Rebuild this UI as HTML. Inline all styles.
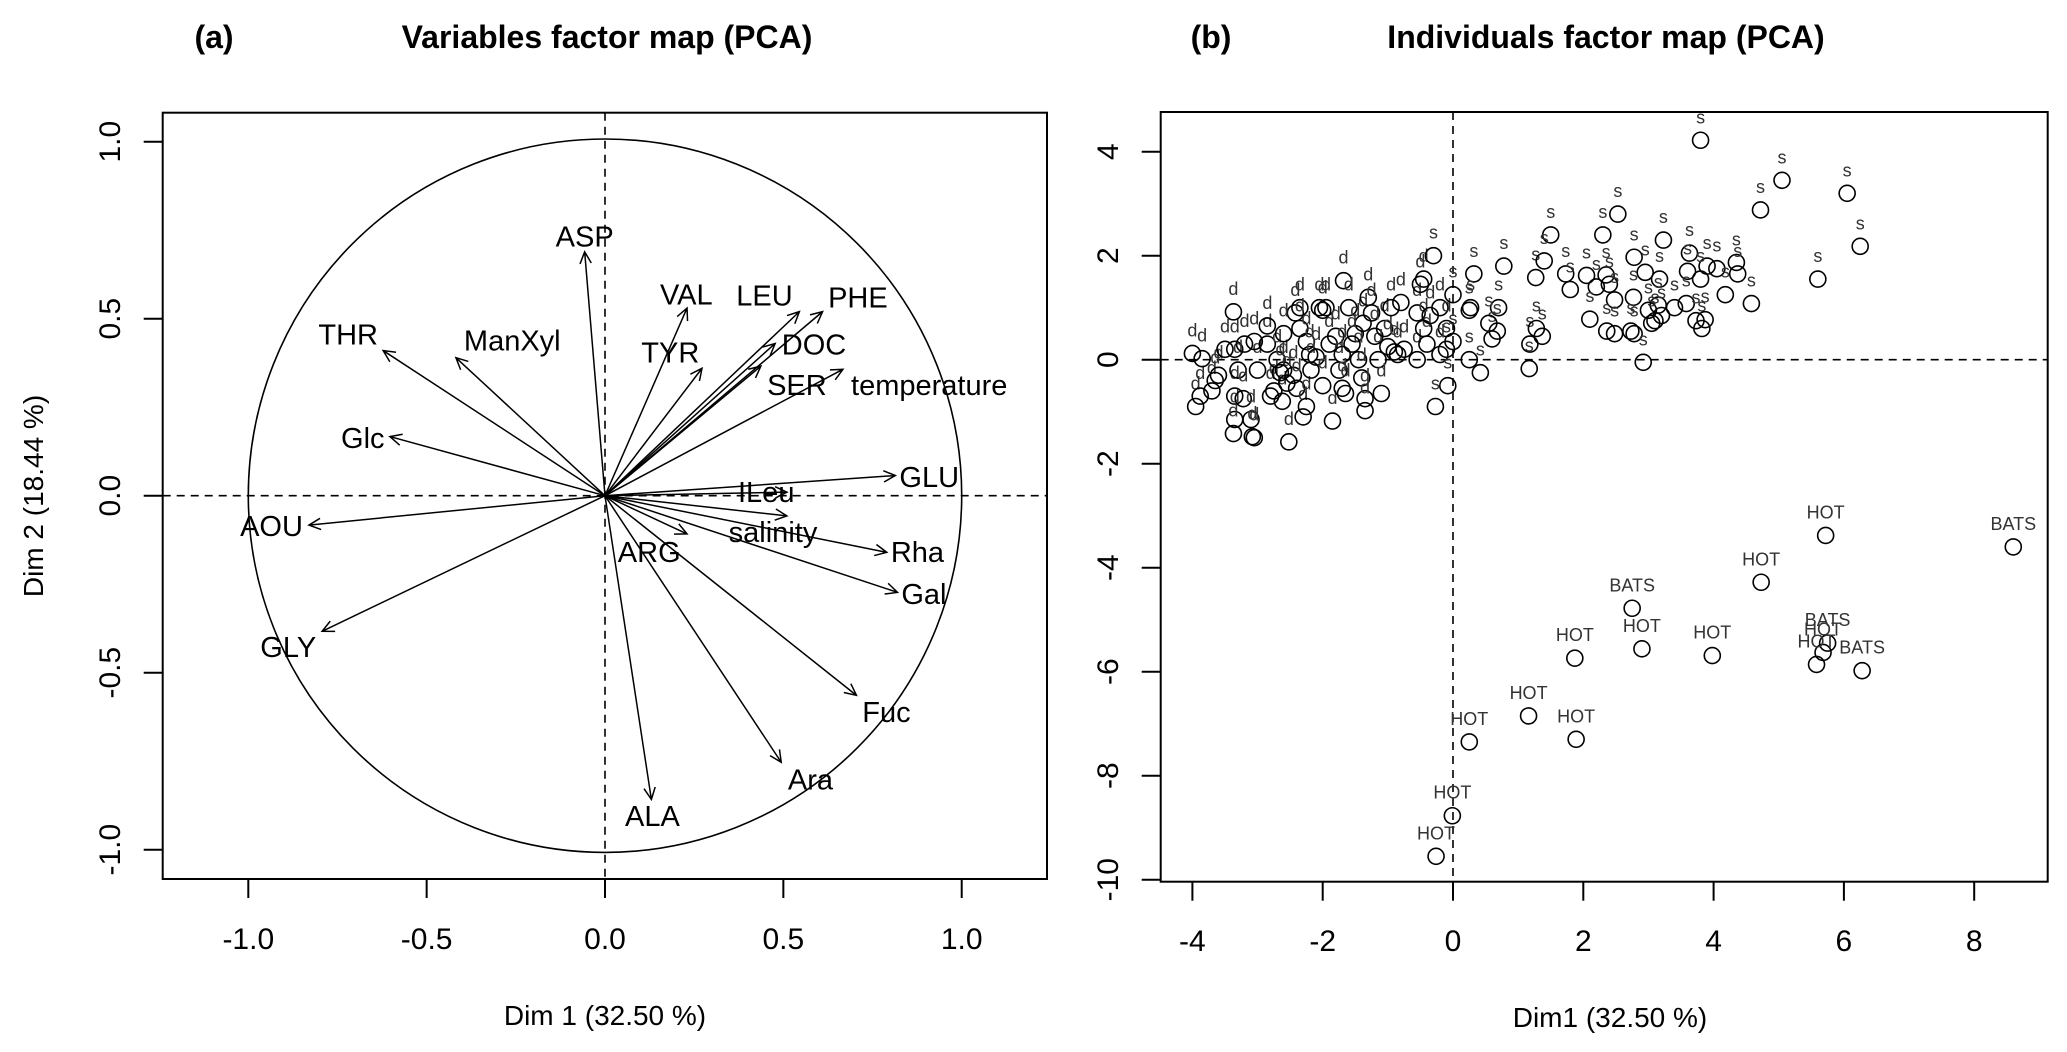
<!DOCTYPE html>
<html><head><meta charset="utf-8">
<style>
html,body{margin:0;padding:0;background:#fff;}
svg{display:block;font-family:"Liberation Sans",Arial,sans-serif;}
</style></head>
<body>
<svg id="chart" width="2067" height="1052" viewBox="0 0 2067 1052" xmlns="http://www.w3.org/2000/svg">
<text x="214" y="48" font-size="32" font-weight="bold" text-anchor="middle">(a)</text>
<text x="607" y="48" font-size="32" font-weight="bold" text-anchor="middle">Variables factor map (PCA)</text>
<text x="1211" y="48" font-size="32" font-weight="bold" text-anchor="middle">(b)</text>
<text x="1606" y="48" font-size="32" font-weight="bold" text-anchor="middle">Individuals factor map (PCA)</text>
<g id="pa"></g>
<g id="pb"></g>
</svg>
<script>
// ---- Panel (a) data ----
const varNames = ["ASP","VAL","LEU","PHE","DOC","TYR","SER","temperature","THR","ManXyl","Glc","AOU","GLY","GLU","ILeu","salinity","Rha","Gal","ARG","Fuc","Ara","ALA"];
const varX = [-0.057,0.23,0.545,0.61,0.477,0.272,0.437,0.667,-0.622,-0.418,-0.603,-0.83,-0.793,0.814,0.51,0.51,0.79,0.82,0.23,0.705,0.494,0.13];
const varY = [0.689,0.53,0.52,0.52,0.43,0.36,0.366,0.357,0.41,0.39,0.167,-0.083,-0.383,0.057,0.01,-0.057,-0.16,-0.273,-0.108,-0.564,-0.753,-0.858];
const labX = [-0.057,0.228,0.447,0.709,0.586,0.183,0.538,0.909,-0.72,-0.26,-0.679,-0.935,-0.888,0.909,0.452,0.471,0.876,0.894,0.124,0.789,0.576,0.133];
const labY = [0.732,0.569,0.565,0.56,0.427,0.404,0.313,0.313,0.455,0.438,0.163,-0.085,-0.427,0.053,0.011,-0.102,-0.159,-0.277,-0.159,-0.611,-0.801,-0.905];
const aTicks = [-1,-0.5,0,0.5,1];
const aTickLabels = ["-1.0","-0.5","0.0","0.5","1.0"];

// ---- Panel (b) data ----
const bXTicks = [-4,-2,0,2,4,6,8];
const bYTicks = [-10,-8,-6,-4,-2,0,2,4];
const stnLab = ["BATS","HOT","HOT","BATS","HOT","HOT","HOT","BATS","HOT","HOT","BATS","HOT","HOT","HOT","HOT","HOT"];
const stnX = [8.6,5.72,4.73,2.75,2.9,3.98,1.87,5.75,5.68,5.58,6.28,1.16,1.89,0.25,-0.01,-0.26];
const stnY = [-3.6,-3.38,-4.28,-4.78,-5.56,-5.69,-5.74,-5.45,-5.63,-5.86,-5.98,-6.85,-7.3,-7.35,-8.77,-9.55];
const surfX = [3.8,5.05,6.05,4.72,6.25,5.6,2.53,2.3,3.23,1.5,2.78,3.63,4.35,3.9,4.05,3.6,3.8,4.37,2.95,3.17,2.35,2.05,1.73,1.8,2.2,2.4,1.27,1.4,0.78,0.32,4.18,4.58,2.48,2.77,3.15,3.0,3.58,3.4,3.73,3.82,3.87,2.1,2.36,2.48,2.73,2.78,3.1,3.05,3.2,2.92,1.18,1.28,1.37,0.7,0.68,0.6,0.55,0.25,0.27,0.0,-0.3,0.25,0.42,-0.08,-0.27,1.17,0.0,-0.1];
const surfY = [4.22,3.45,3.2,2.88,2.18,1.55,2.8,2.4,2.3,2.4,1.97,2.05,1.87,1.8,1.75,1.7,1.55,1.65,1.68,1.55,1.63,1.62,1.65,1.35,1.4,1.45,1.58,1.9,1.8,1.65,1.25,1.08,1.15,1.2,1.05,0.95,1.08,1.0,0.75,0.6,0.77,0.78,0.55,0.5,0.55,0.5,0.75,0.7,0.85,-0.05,0.3,0.6,0.45,1.0,0.55,0.4,0.7,0.95,1.0,1.25,2.0,0.0,-0.25,-0.5,-0.9,-0.17,0.35,0.2];
const deepX = [-4.0,-3.95,-3.88,-3.85,-3.7,-3.65,-3.6,-3.5,-3.35,-3.37,-3.35,-3.3,-3.35,-3.37,-3.22,-3.2,-3.1,-3.08,-3.05,-3.0,-3.05,-2.85,-2.85,-2.8,-2.75,-2.7,-2.62,-2.6,-2.55,-2.52,-2.45,-2.42,-2.4,-2.35,-2.35,-2.3,-2.25,-2.25,-2.2,-2.18,-2.1,-2.05,-2.0,-2.0,-1.95,-1.9,-1.85,-1.8,-1.75,-1.7,-1.7,-1.68,-1.65,-1.6,-1.5,-1.45,-1.4,-1.38,-1.35,-1.35,-1.3,-1.25,-1.2,-1.15,-1.1,-1.05,-1.0,-0.95,-0.9,-0.85,-0.8,-0.75,-0.55,-0.55,-0.5,-0.45,-0.45,-0.4,-0.35,-0.2,-0.1,-0.2,-1.55,-2.6,-2.65];
const deepY = [0.12,-0.9,-0.7,0.02,-0.6,-0.4,-0.3,0.2,0.2,0.92,-0.7,-0.2,-1.15,-1.42,-0.75,0.3,-1.15,-1.48,-1.5,-0.2,0.35,0.3,0.65,-0.7,-0.6,0.0,-0.8,-0.2,-0.45,-1.58,-0.3,0.9,-0.55,1.0,0.6,-1.1,-0.9,0.35,0.1,-0.2,0.05,1.0,0.95,-0.5,1.0,0.3,-1.18,0.45,-0.2,0.1,-0.55,1.52,-0.65,1.0,0.5,0.0,-0.35,0.7,-0.75,-0.98,1.2,0.9,0.45,0.0,-0.65,0.6,0.25,1.0,0.15,0.1,1.1,0.2,0.0,0.9,1.45,0.6,1.55,0.3,0.85,1.0,0.6,0.1,0.3,0.5,-0.25];

const NS="http://www.w3.org/2000/svg";
function mk(parent,tag,attrs){const e=document.createElementNS(NS,tag);for(const k in attrs)e.setAttribute(k,attrs[k]);parent.appendChild(e);return e;}

// ---- Panel (a) ----
(function(){
const g=document.getElementById('pa');
const x0=605, y0=495.7, sx=356.7, sy=354;
const X=v=>x0+v*sx, Y=v=>y0-v*sy;
const box=mk(g,'rect',{x:162.7,y:112.7,width:1047-162.7,height:879-112.7,fill:'none',stroke:'#000','stroke-width':2});


const c=mk(g,'circle',{cx:X(0),cy:Y(0),r:sx,fill:'none',stroke:'#000','stroke-width':1.6});


const h=mk(g,'line',{x1:162.7,x2:1047,y1:Y(0),y2:Y(0),stroke:'#000','stroke-width':1.6,'stroke-dasharray':'8,6'});


const v=mk(g,'line',{x1:X(0),x2:X(0),y1:112.7,y2:879,stroke:'#000','stroke-width':1.6,'stroke-dasharray':'8,6'});


aTicks.forEach((t,i)=>{
  const tx=mk(g,'line',{x1:X(t),x2:X(t),y1:879,y2:898,stroke:'#000','stroke-width':2});
  
  
  const lx=mk(g,'text',{x:X(t),y:949,'font-size':30,'text-anchor':'middle'});lx.textContent=aTickLabels[i];
  
  
  const ty=mk(g,'line',{x1:143.7,x2:162.7,y1:Y(t),y2:Y(t),stroke:'#000','stroke-width':2});
  
  
  const ly=mk(g,'text',{x:0,y:0,'font-size':30,'text-anchor':'middle',transform:`translate(120,${Y(t)}) rotate(-90)`});ly.textContent=aTickLabels[i];
  
  
});
const xt=mk(g,'text',{x:605,y:1025,'font-size':28,'text-anchor':'middle'});xt.textContent='Dim 1 (32.50 %)';


const yt=mk(g,'text',{x:0,y:0,'font-size':28,'text-anchor':'middle',transform:'translate(43,496) rotate(-90)'});yt.textContent='Dim 2 (18.44 %)';


varNames.forEach((n,i)=>{
  const ex=X(varX[i]), ey=Y(varY[i]);
  const ang=Math.atan2(ey-y0,ex-x0);
  const L=13, a=0.45;
  const p=`M${x0},${y0}L${ex},${ey}M${ex-L*Math.cos(ang-a)},${ey-L*Math.sin(ang-a)}L${ex},${ey}L${ex-L*Math.cos(ang+a)},${ey-L*Math.sin(ang+a)}`;
  const ar=mk(g,'path',{d:p,fill:'none',stroke:'#000','stroke-width':1.5});
  
  
  const t=mk(g,'text',{x:X(labX[i]),y:Y(labY[i])+10,'font-size':29,'text-anchor':'middle'});t.textContent=n;
  
  
});
})();

// ---- Panel (b) ----
(function(){
const g=document.getElementById('pb');
const x0=1453, y0=359.7, sx=65.15, sy=52;
const X=v=>x0+v*sx, Y=v=>y0-v*sy;
const L=1160.7,R=2047.7,T=112,B=881.7;
const box=mk(g,'rect',{x:L,y:T,width:R-L,height:B-T,fill:'none',stroke:'#000','stroke-width':2});


const h=mk(g,'line',{x1:L,x2:R,y1:Y(0),y2:Y(0),stroke:'#000','stroke-width':1.6,'stroke-dasharray':'8,6'});


const v=mk(g,'line',{x1:X(0),x2:X(0),y1:T,y2:B,stroke:'#000','stroke-width':1.6,'stroke-dasharray':'8,6'});


bXTicks.forEach(t=>{
  const tx=mk(g,'line',{x1:X(t),x2:X(t),y1:B,y2:B+19,stroke:'#000','stroke-width':2});
  
  
  const lx=mk(g,'text',{x:X(t),y:951,'font-size':30,'text-anchor':'middle'});lx.textContent=String(t);
  
  
});
bYTicks.forEach(t=>{
  const ty=mk(g,'line',{x1:L-19,x2:L,y1:Y(t),y2:Y(t),stroke:'#000','stroke-width':2});
  
  
  const ly=mk(g,'text',{x:0,y:0,'font-size':30,'text-anchor':'middle',transform:`translate(1118,${Y(t)}) rotate(-90)`});ly.textContent=String(t);
  
  
});
const xt=mk(g,'text',{x:1610,y:1027,'font-size':28,'text-anchor':'middle'});xt.textContent='Dim1 (32.50 %)';


function drawPts(xs,ys,labFn,nm){
  const n=Math.min(xs.length,ys.length);
  for(let i=0;i<n;i++){
    const cx=X(xs[i]), cy=Y(ys[i]);
    const c=mk(g,'circle',{cx:cx,cy:cy,r:8,fill:'none',stroke:'#000','stroke-width':1.6});
    
    
    const t=mk(g,'text',{x:cx,y:cy-17,'font-size':18,'text-anchor':'middle',fill:'#333'});t.textContent=labFn(i);
    
    
  }
}
drawPts(deepX,deepY,()=> 'd','deep');
drawPts(surfX,surfY,()=> 's','surface');
drawPts(stnX,stnY,i=>stnLab[i]||'','station');
})();
</script>
</body></html>
